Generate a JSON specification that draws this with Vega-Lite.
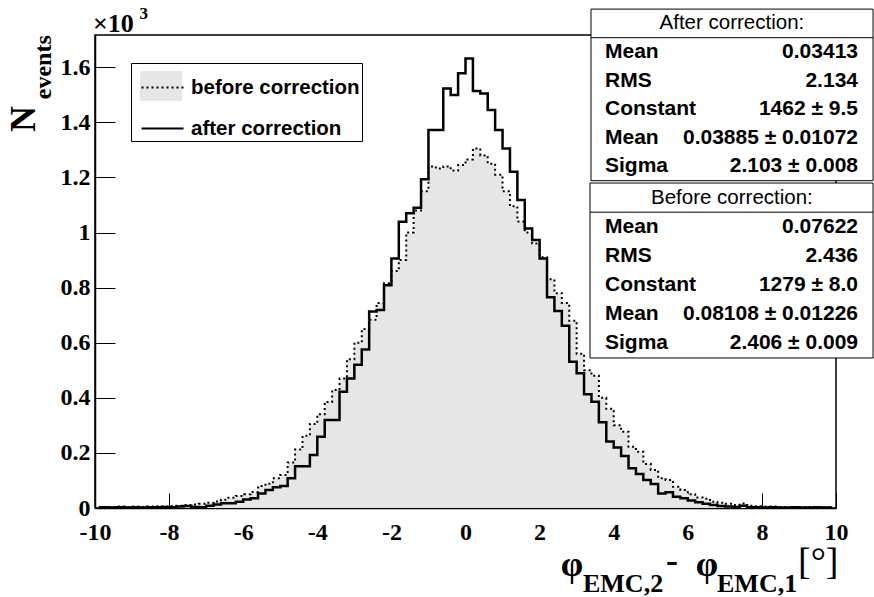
{
  "$schema": "https://vega.github.io/schema/vega-lite/v6.json",
  "width": 741,
  "height": 473,
  "autosize": {"type": "none"},
  "padding": {"left": 95, "top": 35, "right": 38, "bottom": 89},
  "background": "white",
  "config": {
    "view": {"stroke": "black", "strokeWidth": 1.5},
    "axis": {"grid": false, "title": null, "domainColor": "black", "domainWidth": 1.5, "tickColor": "black", "tickWidth": 1, "labelFont": "Liberation Serif", "labelFontWeight": "bold", "labelColor": "black", "labelOverlap": false, "labelFlush": false, "labelBound": false}
  },
  "datasets": {
    "hist": [
      {"x": -9.9, "after": 2, "before": 4}, {"x": -9.7, "after": 3, "before": 3}, {"x": -9.5, "after": 2, "before": 4}, {"x": -9.3, "after": 3, "before": 5}, {"x": -9.1, "after": 2, "before": 4},
      {"x": -8.9, "after": 3, "before": 5}, {"x": -8.7, "after": 2, "before": 4}, {"x": -8.5, "after": 3, "before": 5}, {"x": -8.3, "after": 3, "before": 6}, {"x": -8.1, "after": 4, "before": 5},
      {"x": -7.9, "after": 3, "before": 7}, {"x": -7.7, "after": 5, "before": 8}, {"x": -7.5, "after": 7, "before": 11}, {"x": -7.3, "after": 4, "before": 13}, {"x": -7.1, "after": 3, "before": 15},
      {"x": -6.9, "after": 8, "before": 19}, {"x": -6.7, "after": 13, "before": 24}, {"x": -6.5, "after": 17, "before": 30}, {"x": -6.3, "after": 17, "before": 37}, {"x": -6.1, "after": 23, "before": 44},
      {"x": -5.9, "after": 31, "before": 50}, {"x": -5.7, "after": 35, "before": 58}, {"x": -5.5, "after": 53, "before": 80}, {"x": -5.3, "after": 65, "before": 88}, {"x": -5.1, "after": 75, "before": 108},
      {"x": -4.9, "after": 80, "before": 120}, {"x": -4.7, "after": 108, "before": 165}, {"x": -4.5, "after": 152, "before": 212}, {"x": -4.3, "after": 152, "before": 262}, {"x": -4.1, "after": 192, "before": 305},
      {"x": -3.9, "after": 259, "before": 340}, {"x": -3.7, "after": 319, "before": 385}, {"x": -3.5, "after": 319, "before": 428}, {"x": -3.3, "after": 422, "before": 470}, {"x": -3.1, "after": 470, "before": 540},
      {"x": -2.9, "after": 520, "before": 600}, {"x": -2.7, "after": 575, "before": 650}, {"x": -2.5, "after": 713, "before": 683}, {"x": -2.3, "after": 719, "before": 744}, {"x": -2.1, "after": 809, "before": 816},
      {"x": -1.9, "after": 906, "before": 860}, {"x": -1.7, "after": 1039, "before": 900}, {"x": -1.5, "after": 1070, "before": 1000}, {"x": -1.3, "after": 1090, "before": 1080}, {"x": -1.1, "after": 1193, "before": 1150},
      {"x": -0.9, "after": 1372, "before": 1240}, {"x": -0.7, "after": 1372, "before": 1232}, {"x": -0.5, "after": 1523, "before": 1240}, {"x": -0.3, "after": 1499, "before": 1225}, {"x": -0.1, "after": 1578, "before": 1245},
      {"x": 0.1, "after": 1632, "before": 1265}, {"x": 0.3, "after": 1514, "before": 1305}, {"x": 0.5, "after": 1505, "before": 1280}, {"x": 0.7, "after": 1445, "before": 1250}, {"x": 0.9, "after": 1372, "before": 1210},
      {"x": 1.1, "after": 1305, "before": 1150}, {"x": 1.3, "after": 1221, "before": 1095}, {"x": 1.5, "after": 1118, "before": 1040}, {"x": 1.7, "after": 1015, "before": 1000}, {"x": 1.9, "after": 973, "before": 960},
      {"x": 2.1, "after": 906, "before": 910}, {"x": 2.3, "after": 765, "before": 830}, {"x": 2.5, "after": 715, "before": 780}, {"x": 2.7, "after": 662, "before": 744}, {"x": 2.9, "after": 531, "before": 680},
      {"x": 3.1, "after": 489, "before": 560}, {"x": 3.3, "after": 413, "before": 500}, {"x": 3.5, "after": 386, "before": 480}, {"x": 3.7, "after": 311, "before": 400}, {"x": 3.9, "after": 241, "before": 360},
      {"x": 4.1, "after": 220, "before": 300}, {"x": 4.3, "after": 189, "before": 277}, {"x": 4.5, "after": 144, "before": 222}, {"x": 4.7, "after": 123, "before": 204}, {"x": 4.9, "after": 102, "before": 160},
      {"x": 5.1, "after": 87, "before": 138}, {"x": 5.3, "after": 53, "before": 108}, {"x": 5.5, "after": 57, "before": 102}, {"x": 5.7, "after": 41, "before": 77}, {"x": 5.9, "after": 35, "before": 65},
      {"x": 6.1, "after": 27, "before": 50}, {"x": 6.3, "after": 21, "before": 38}, {"x": 6.5, "after": 15, "before": 34}, {"x": 6.7, "after": 11, "before": 23}, {"x": 6.9, "after": 7, "before": 19},
      {"x": 7.1, "after": 5, "before": 15}, {"x": 7.3, "after": 4, "before": 11}, {"x": 7.5, "after": 8, "before": 16}, {"x": 7.7, "after": 3, "before": 8}, {"x": 7.9, "after": 3, "before": 6},
      {"x": 8.1, "after": 2, "before": 5}, {"x": 8.3, "after": 3, "before": 5}, {"x": 8.5, "after": 2, "before": 4}, {"x": 8.7, "after": 2, "before": 4}, {"x": 8.9, "after": 3, "before": 4},
      {"x": 9.1, "after": 2, "before": 3}, {"x": 9.3, "after": 2, "before": 4}, {"x": 9.5, "after": 3, "before": 3}, {"x": 9.7, "after": 2, "before": 3}, {"x": 9.9, "after": 2, "before": 3}
    ],
    "stats": [
      {"box": "after", "line": 1, "label": "Mean", "value": "0.03413"},
      {"box": "after", "line": 2, "label": "RMS", "value": "2.134"},
      {"box": "after", "line": 3, "label": "Constant", "value": "1462 ± 9.5"},
      {"box": "after", "line": 4, "label": "Mean", "value": "0.03885 ± 0.01072"},
      {"box": "after", "line": 5, "label": "Sigma", "value": "2.103 ± 0.008"},
      {"box": "before", "line": 1, "label": "Mean", "value": "0.07622"},
      {"box": "before", "line": 2, "label": "RMS", "value": "2.436"},
      {"box": "before", "line": 3, "label": "Constant", "value": "1279 ± 8.0"},
      {"box": "before", "line": 4, "label": "Mean", "value": "0.08108 ± 0.01226"},
      {"box": "before", "line": 5, "label": "Sigma", "value": "2.406 ± 0.009"}
    ]
  },
  "layer": [
    {
      "data": {"name": "hist"},
      "layer": [
        {
          "mark": {"type": "area", "interpolate": "step", "strokeWidth": 0},
          "encoding": {
            "x": {"field": "x", "type": "quantitative", "scale": {"domain": [-10, 10], "nice": false, "zero": false},
              "axis": {"values": [-10, -9.5, -9, -8.5, -8, -7.5, -7, -6.5, -6, -5.5, -5, -4.5, -4, -3.5, -3, -2.5, -2, -1.5, -1, -0.5, 0, 0.5, 1, 1.5, 2, 2.5, 3, 3.5, 4, 4.5, 5, 5.5, 6, 6.5, 7, 7.5, 8, 8.5, 9, 9.5, 10],
                "labelExpr": "datum.value % 2 === 0 ? '' + datum.value : ''",
                "tickSize": {"condition": {"test": "datum.value % 2 === 0", "value": -15}, "value": -7},
                "labelPadding": 27, "labelFontSize": 24}},
            "y": {"field": "before", "type": "quantitative", "scale": {"domain": [0, 1717], "nice": false},
              "axis": {"values": [0, 50, 100, 150, 200, 250, 300, 350, 400, 450, 500, 550, 600, 650, 700, 750, 800, 850, 900, 950, 1000, 1050, 1100, 1150, 1200, 1250, 1300, 1350, 1400, 1450, 1500, 1550, 1600, 1650, 1700],
                "labelExpr": "datum.value % 200 === 0 ? format(datum.value / 1000, '.1~f') : ''",
                "tickSize": {"condition": {"test": "datum.value % 200 === 0", "value": -20}, "value": -10},
                "labelPadding": 25, "labelFontSize": 24}},
            "fill": {"datum": "before correction", "type": "nominal", "scale": {"range": ["#e6e6e6"]},
              "legend": {"orient": "none", "legendX": 36, "legendY": 28, "title": null, "symbolType": "M-1,-0.714H1V0.714H-1Z", "symbolSize": 1764, "symbolStrokeWidth": 0, "symbolOffset": 7, "labelExpr": "''", "labelFont": "Liberation Sans", "labelFontSize": 20.5, "labelFontWeight": "bold", "labelOffset": 6, "padding": 2, "rowPadding": 8}}
          }
        },
        {
          "mark": {"type": "line", "interpolate": "step", "color": "black", "strokeWidth": 2},
          "encoding": {
            "x": {"field": "x", "type": "quantitative"},
            "y": {"field": "before", "type": "quantitative"},
            "strokeDash": {"datum": "before correction", "type": "nominal", "scale": {"domain": ["before correction", "after correction"], "range": [[2, 3], [1, 0]]},
              "legend": {"orient": "none", "legendX": 36, "legendY": 28, "title": null, "symbolType": "stroke", "symbolSize": 1764, "symbolStrokeWidth": 2.2, "symbolStrokeColor": "black", "symbolOffset": 7, "labelLimit": 400, "labelFont": "Liberation Sans", "labelFontSize": 20.5, "labelFontWeight": "bold", "labelColor": "black", "labelOffset": 6, "padding": 2, "rowPadding": 8, "strokeColor": "black"}}
          }
        },
        {
          "mark": {"type": "line", "interpolate": "step", "color": "black", "strokeWidth": 2.5},
          "encoding": {
            "x": {"field": "x", "type": "quantitative"},
            "y": {"field": "after", "type": "quantitative"},
            "strokeDash": {"datum": "after correction", "type": "nominal"}
          }
        },
        {"data": {"values": [{}]}, "mark": {"type": "text", "text": "φ", "font": "Liberation Serif", "fontSize": 36, "fontWeight": "bold", "align": "center", "baseline": "middle"}, "encoding": {"x": {"datum": 2.874}, "y": {"datum": -207}}},
        {"data": {"values": [{}]}, "mark": {"type": "text", "text": "EMC,2", "font": "Liberation Serif", "fontSize": 26, "fontWeight": "bold", "align": "left", "baseline": "middle"}, "encoding": {"x": {"datum": 3.171}, "y": {"datum": -276}}},
        {"data": {"values": [{}]}, "mark": {"type": "text", "text": "-", "font": "Liberation Serif", "fontSize": 36, "fontWeight": "bold", "align": "center", "baseline": "middle"}, "encoding": {"x": {"datum": 5.573}, "y": {"datum": -192}}},
        {"data": {"values": [{}]}, "mark": {"type": "text", "text": "φ", "font": "Liberation Serif", "fontSize": 36, "fontWeight": "bold", "align": "center", "baseline": "middle"}, "encoding": {"x": {"datum": 6.518}, "y": {"datum": -207}}},
        {"data": {"values": [{}]}, "mark": {"type": "text", "text": "EMC,1", "font": "Liberation Serif", "fontSize": 26, "fontWeight": "bold", "align": "left", "baseline": "middle"}, "encoding": {"x": {"datum": 6.788}, "y": {"datum": -276}}},
        {"data": {"values": [{}]}, "mark": {"type": "text", "text": "[°]", "font": "Liberation Serif", "fontSize": 38, "fontWeight": "normal", "align": "left", "baseline": "middle"}, "encoding": {"x": {"datum": 8.974}, "y": {"datum": -200}}},
        {"data": {"values": [{}]}, "mark": {"type": "text", "text": "N", "font": "Liberation Serif", "fontSize": 36, "fontWeight": "bold", "align": "center", "baseline": "middle", "angle": 270}, "encoding": {"x": {"datum": -11.916}, "y": {"datum": 1412}}},
        {"data": {"values": [{}]}, "mark": {"type": "text", "text": "events", "font": "Liberation Serif", "fontSize": 24, "fontWeight": "bold", "align": "center", "baseline": "middle", "angle": 270}, "encoding": {"x": {"datum": -11.377}, "y": {"datum": 1600}}},
        {"data": {"values": [{}]}, "mark": {"type": "text", "text": "×10", "font": "Liberation Serif", "fontSize": 26, "fontWeight": "bold", "align": "left", "baseline": "middle"}, "encoding": {"x": {"datum": -10.054}, "y": {"datum": 1757}}},
        {"data": {"values": [{}]}, "mark": {"type": "text", "text": "3", "font": "Liberation Serif", "fontSize": 17, "fontWeight": "bold", "align": "left", "baseline": "middle"}, "encoding": {"x": {"datum": -8.8}, "y": {"datum": 1792}}}
      ]
    },
    {
      "data": {"name": "stats"},
      "transform": [{"filter": "datum.box === 'after'"}],
      "layer": [
        {"data": {"values": [{}]}, "mark": {"type": "rect", "fill": "white", "stroke": "black", "strokeWidth": 1}, "encoding": {"x": {"datum": 3.387}, "x2": {"datum": 11.0}, "y": {"datum": -0.5, "type": "quantitative", "scale": {"domain": [0, 5], "range": [-11.6, 131.4]}, "axis": null}, "y2": {"datum": 5.5}}},
        {"data": {"values": [{}]}, "mark": {"type": "rule", "stroke": "black", "strokeWidth": 1}, "encoding": {"x": {"datum": 3.387}, "x2": {"datum": 11.0}, "y": {"datum": 0.5, "type": "quantitative"}}},
        {"data": {"values": [{}]}, "mark": {"type": "text", "text": "After correction:", "font": "Liberation Sans", "fontSize": 20.5, "align": "center", "baseline": "middle", "color": "black"}, "encoding": {"x": {"datum": 7.19}, "y": {"datum": 0, "type": "quantitative"}}},
        {"mark": {"type": "text", "font": "Liberation Sans", "fontSize": 21, "fontWeight": "bold", "align": "left", "baseline": "middle", "color": "black"}, "encoding": {"x": {"datum": 3.765}, "y": {"field": "line", "type": "quantitative"}, "text": {"field": "label"}}},
        {"mark": {"type": "text", "font": "Liberation Sans", "fontSize": 21, "fontWeight": "bold", "align": "right", "baseline": "middle", "color": "black"}, "encoding": {"x": {"datum": 10.594}, "y": {"field": "line", "type": "quantitative"}, "text": {"field": "value"}}}
      ]
    },
    {
      "data": {"name": "stats"},
      "transform": [{"filter": "datum.box === 'before'"}],
      "layer": [
        {"data": {"values": [{}]}, "mark": {"type": "rect", "fill": "white", "stroke": "black", "strokeWidth": 1}, "encoding": {"x": {"datum": 3.36}, "x2": {"datum": 11.0}, "y": {"datum": -0.5, "type": "quantitative", "scale": {"domain": [0, 5], "range": [162.6, 308.4]}, "axis": null}, "y2": {"datum": 5.5}}},
        {"data": {"values": [{}]}, "mark": {"type": "rule", "stroke": "black", "strokeWidth": 1}, "encoding": {"x": {"datum": 3.36}, "x2": {"datum": 11.0}, "y": {"datum": 0.5, "type": "quantitative"}}},
        {"data": {"values": [{}]}, "mark": {"type": "text", "text": "Before correction:", "font": "Liberation Sans", "fontSize": 20.5, "align": "center", "baseline": "middle", "color": "black"}, "encoding": {"x": {"datum": 7.19}, "y": {"datum": 0, "type": "quantitative"}}},
        {"mark": {"type": "text", "font": "Liberation Sans", "fontSize": 21, "fontWeight": "bold", "align": "left", "baseline": "middle", "color": "black"}, "encoding": {"x": {"datum": 3.765}, "y": {"field": "line", "type": "quantitative"}, "text": {"field": "label"}}},
        {"mark": {"type": "text", "font": "Liberation Sans", "fontSize": 21, "fontWeight": "bold", "align": "right", "baseline": "middle", "color": "black"}, "encoding": {"x": {"datum": 10.594}, "y": {"field": "line", "type": "quantitative"}, "text": {"field": "value"}}}
      ]
    }
  ],
  "resolve": {"scale": {"y": "independent"}, "axis": {"y": "independent"}}
}
